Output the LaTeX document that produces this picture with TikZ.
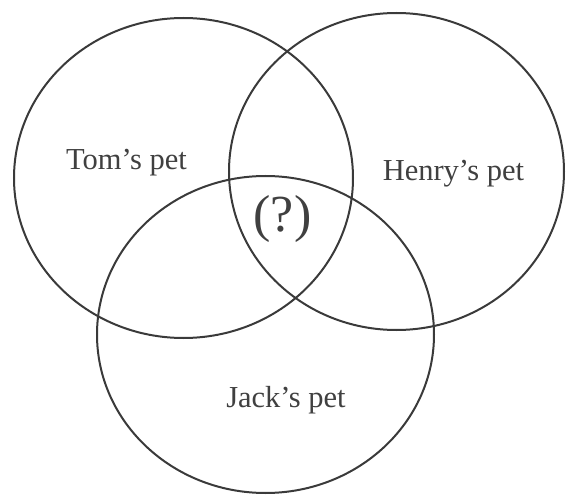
\documentclass[tikz,border=0pt]{standalone}
\usepackage{fontspec}
\setmainfont{Liberation Serif}
\usetikzlibrary{shapes.geometric}
\definecolor{ink}{HTML}{3A3A3A}
\definecolor{txt}{HTML}{404040}
\tikzset{
  setring/.style={draw=ink, line width=2pt, ellipse, inner sep=0pt},
  lbl/.style={text=txt, font=\fontsize{30.5}{33}\selectfont, inner sep=0pt, anchor=base},
  qlbl/.style={text=txt, font=\fontsize{52}{56}\selectfont, inner sep=0pt, anchor=base}
}
\begin{document}
\begin{tikzpicture}[x=1pt,y=-1pt]
\useasboundingbox (0,0) rectangle (574,495);
\node[setring, minimum width=339pt, minimum height=320pt] (tom) at (183.5,178) {};
\node[setring, minimum width=335pt, minimum height=317pt] (henry) at (396.5,171.5) {};
\node[setring, minimum width=337pt, minimum height=317pt] (jack) at (265.5,334.5) {};
\node[lbl] (tomt) at (126.5,170) {Tom’s pet};
\node[lbl] (henryt) at (453.5,181) {Henry’s pet};
\node[lbl] (jackt) at (286,407) {Jack’s pet};
\node[qlbl] (q) at (282.5,231) {(?)};
\end{tikzpicture}
\end{document}
